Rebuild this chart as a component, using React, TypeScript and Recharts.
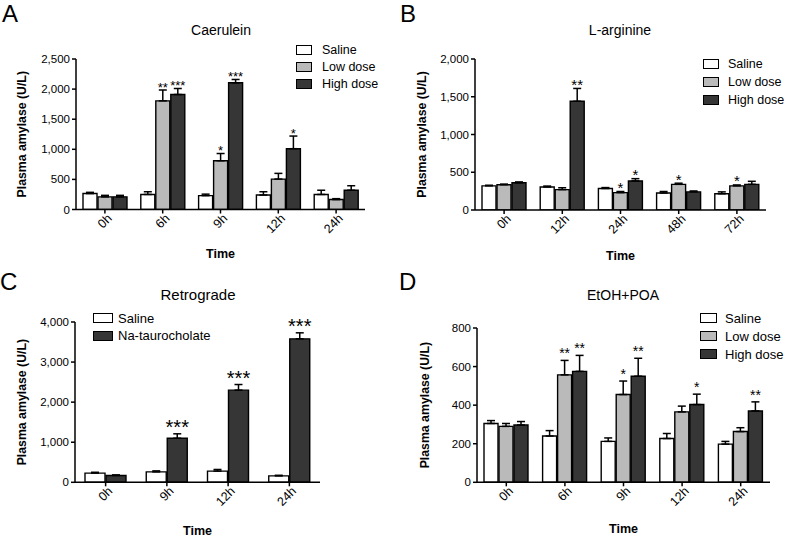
import { BarChart, Bar, XAxis, YAxis, ErrorBar, LabelList, Legend } from 'recharts';

// A - Caerulein
const caeruleinTimes = ['0h', '6h', '9h', '12h', '24h'];
const caeruleinSaline = [265, 250, 230, 240, 250];
const caeruleinSalineErr = [20, 45, 25, 55, 70];
const caeruleinLow = [210, 1805, 810, 505, 165];
const caeruleinLowErr = [25, 180, 120, 95, 15];
const caeruleinHigh = [210, 1910, 2105, 1010, 320];
const caeruleinHighErr = [25, 100, 55, 210, 75];
const caeruleinLowStars = ['', '**', '*', '', ''];
const caeruleinHighStars = ['', '***', '***', '*', ''];
const caeruleinTicks = [0, 500, 1000, 1500, 2000, 2500];

// B - L-arginine
const arginineTimes = ['0h', '12h', '24h', '48h', '72h'];
const arginineSaline = [320, 305, 285, 225, 215];
const arginineSalineErr = [8, 12, 12, 20, 25];
const arginineLow = [335, 270, 230, 340, 320];
const arginineLowErr = [8, 25, 15, 15, 12];
const arginineHigh = [360, 1440, 385, 240, 340];
const arginineHighErr = [12, 170, 30, 12, 40];
const arginineLowStars = ['', '', '*', '*', '*'];
const arginineHighStars = ['', '**', '*', '', ''];
const arginineTicks = [0, 500, 1000, 1500, 2000];

// C - Retrograde
const retroTimes = ['0h', '9h', '12h', '24h'];
const retroSaline = [230, 260, 280, 160];
const retroSalineErr = [20, 25, 40, 15];
const retroTauro = [170, 1100, 2300, 3580];
const retroTauroErr = [15, 110, 140, 150];
const retroTauroStars = ['', '***', '***', '***'];
const retroTicks = [0, 1000, 2000, 3000, 4000];

// D - EtOH+POA
const etohTimes = ['0h', '6h', '9h', '12h', '24h'];
const etohSaline = [305, 240, 212, 227, 198];
const etohSalineErr = [15, 28, 18, 26, 14];
const etohLow = [290, 557, 455, 365, 263];
const etohLowErr = [15, 75, 70, 30, 20];
const etohHigh = [297, 575, 550, 403, 370];
const etohHighErr = [18, 83, 93, 54, 47];
const etohLowStars = ['', '**', '*', '', ''];
const etohHighStars = ['', '**', '**', '*', '**'];
const etohTicks = [0, 200, 400, 600, 800];

const WHITE = '#ffffff';
const GRAY = '#bababa';
const DARK = '#363636';
const FONT = '"Liberation Sans", Arial, sans-serif';

type Series = { key: string; name: string; fill: string; values: number[]; errors: number[]; stars?: string[] };

type PanelProps = {
  left: number; top: number; width: number; height: number;
  margin: { top: number; right: number; bottom: number; left: number };
  yWidth: number; xHeight: number; yLabelOffset: number; timeOffset: number;
  times: string[]; series: Series[]; ticks: number[];
  barSize: number; starSize: number; starGap: number;
  legend: { left: number; top: number; boxW: number; boxH: number; rowH: number; gap: number; fontSize: number };
};

const TimeTick = (props: any) => {
  const { x, y, payload } = props;
  return (
    <g transform={`translate(${x + 5},${y + 1})`}>
      <text transform="rotate(-45)" textAnchor="end" fontSize={12.5} fill="#000" dy="0.3em">
        {payload.value}
      </text>
    </g>
  );
};

function Panel(p: PanelProps) {
  const rows = p.times.map((t, i) => {
    const row: any = { time: t };
    p.series.forEach((s) => {
      row[s.key] = s.values[i];
      row[s.key + 'Err'] = [0, s.errors[i]];
      row[s.key + 'Star'] = s.stars ? s.stars[i] : '';
    });
    return row;
  });

  // star sits just above the error bar; position from the bar's own pixel scale
  const starContent = (key: string) => (props: any) => {
    const vb = props.viewBox || props;
    const idx = props.index;
    const row = props.payload && props.payload[key] !== undefined ? props.payload : rows[idx];
    if (!row || !row[key + 'Star']) return null;
    const v = row[key];
    const e = row[key + 'Err'][1];
    const errTop = vb.y - (vb.height / v) * e;
    return (
      <text x={vb.x + vb.width / 2} y={errTop - p.starGap + 0.43 * p.starSize} textAnchor="middle"
        fontSize={p.starSize} fill="#000">
        {row[key + 'Star']}
      </text>
    );
  };

  const lg = p.legend;
  const legendContent = () => (
    <div style={{ fontFamily: FONT, fontSize: lg.fontSize, color: '#000' }}>
      {p.series.map((s) => (
        <div key={s.key} style={{ display: 'flex', alignItems: 'center', height: lg.rowH, whiteSpace: 'nowrap' }}>
          <span style={{ display: 'inline-block', boxSizing: 'border-box', width: lg.boxW, height: lg.boxH,
            background: s.fill, border: '1.5px solid #000', marginRight: lg.gap }} />
          {s.name}
        </div>
      ))}
    </div>
  );

  return (
    <div style={{ position: 'absolute', left: p.left, top: p.top }}>
      <BarChart width={p.width} height={p.height} data={rows} margin={p.margin}
        barSize={p.barSize} barGap={1} style={{ fontFamily: FONT }}>
        <XAxis dataKey="time" height={p.xHeight} tick={<TimeTick />} tickSize={4}
          axisLine={{ stroke: '#000', strokeWidth: 1.5 }} tickLine={{ stroke: '#000', strokeWidth: 1.5 }}
          interval={0}
          label={{ value: 'Time', position: 'insideBottom', offset: p.timeOffset, fill: '#000',
            fontSize: 12.5, fontWeight: 'bold' }} />
        <YAxis width={p.yWidth} domain={[0, p.ticks[p.ticks.length - 1]]} ticks={p.ticks}
          allowDataOverflow tickSize={4} tickMargin={2}
          tickFormatter={(v: number) => v.toLocaleString('en-US')}
          tick={{ fill: '#000', fontSize: 11.5 }}
          axisLine={{ stroke: '#000', strokeWidth: 1.5 }} tickLine={{ stroke: '#000', strokeWidth: 1.5 }}
          label={{ value: 'Plasma amylase (U/L)', angle: -90, position: 'insideLeft', offset: p.yLabelOffset,
            fill: '#000', fontSize: 12.3, fontWeight: 'bold', style: { textAnchor: 'middle' } }} />
        <Legend layout="vertical" align="center" verticalAlign="middle" content={legendContent}
          wrapperStyle={{ left: lg.left, top: lg.top, width: 'auto' }} />
        {p.series.map((s) => (
          <Bar key={s.key} dataKey={s.key} name={s.name} fill={s.fill} stroke="#000" strokeWidth={1.4}
            isAnimationActive={false}>
            <ErrorBar dataKey={s.key + 'Err'} width={4} stroke="#000" strokeWidth={1.5} direction="y" />
            <LabelList dataKey={s.key + 'Star'} content={starContent(s.key)} />
          </Bar>
        ))}
      </BarChart>
    </div>
  );
}

const threeDose = (sal: number[], salE: number[], low: number[], lowE: number[], lowS: string[],
  high: number[], highE: number[], highS: string[]): Series[] => [
  { key: 'saline', name: 'Saline', fill: WHITE, values: sal, errors: salE },
  { key: 'low', name: 'Low dose', fill: GRAY, values: low, errors: lowE, stars: lowS },
  { key: 'high', name: 'High dose', fill: DARK, values: high, errors: highE, stars: highS },
];

export default function App() {
  return (
    <div style={{ position: 'absolute', left: 0, top: 0, width: 787, height: 537, background: '#fff',
      fontFamily: FONT, overflow: 'hidden' }}>
      <Panel left={0} top={0} width={390} height={268}
        margin={{ top: 59, right: 25, bottom: 5, left: 8 }} yWidth={68} xHeight={53.5}
        yLabelOffset={14} timeOffset={5}
        times={caeruleinTimes} ticks={caeruleinTicks} barSize={14} starSize={13} starGap={4}
        series={threeDose(caeruleinSaline, caeruleinSalineErr, caeruleinLow, caeruleinLowErr, caeruleinLowStars,
          caeruleinHigh, caeruleinHighErr, caeruleinHighStars)}
        legend={{ left: 296, top: 41.5, boxW: 16, boxH: 10, rowH: 17, gap: 10, fontSize: 12.5 }} />
      <Panel left={393} top={0} width={394} height={268}
        margin={{ top: 59, right: 21, bottom: 4, left: 8 }} yWidth={74} xHeight={54}
        yLabelOffset={20.7} timeOffset={4}
        times={arginineTimes} ticks={arginineTicks} barSize={14} starSize={15} starGap={5}
        series={threeDose(arginineSaline, arginineSalineErr, arginineLow, arginineLowErr, arginineLowStars,
          arginineHigh, arginineHighErr, arginineHighStars)}
        legend={{ left: 310, top: 55.5, boxW: 16, boxH: 10, rowH: 17.8, gap: 9, fontSize: 12.5 }} />
      <Panel left={0} top={268} width={390} height={269}
        margin={{ top: 54, right: 70, bottom: 1, left: 8 }} yWidth={67} xHeight={53.7}
        yLabelOffset={13.7} timeOffset={1}
        times={retroTimes} ticks={retroTicks} barSize={20} starSize={20} starGap={8}
        series={[
          { key: 'saline', name: 'Saline', fill: WHITE, values: retroSaline, errors: retroSalineErr },
          { key: 'tauro', name: 'Na-taurocholate', fill: DARK, values: retroTauro, errors: retroTauroErr,
            stars: retroTauroStars },
        ]}
        legend={{ left: 93, top: 41.6, boxW: 20, boxH: 10, rowH: 17.4, gap: 5, fontSize: 13 }} />
      <Panel left={393} top={268} width={394} height={269}
        margin={{ top: 60, right: 17, bottom: 2, left: 8 }} yWidth={76} xHeight={52.7}
        yLabelOffset={24} timeOffset={2}
        times={etohTimes} ticks={etohTicks} barSize={14} starSize={14} starGap={8}
        series={threeDose(etohSaline, etohSalineErr, etohLow, etohLowErr, etohLowStars,
          etohHigh, etohHighErr, etohHighStars)}
        legend={{ left: 307, top: 41.3, boxW: 17, boxH: 10, rowH: 18, gap: 8, fontSize: 13 }} />
      <svg width={787} height={537} style={{ position: 'absolute', left: 0, top: 0, pointerEvents: 'none' }}
        fontFamily={FONT}>
        <text x={2} y={22} fontSize={24}>A</text>
        <text x={400} y={22} fontSize={24}>B</text>
        <text x={0} y={290} fontSize={24}>C</text>
        <text x={399} y={290} fontSize={24}>D</text>
        <text x={221} y={35} fontSize={14} textAnchor="middle">Caerulein</text>
        <text x={620} y={35} fontSize={14} textAnchor="middle">L-arginine</text>
        <text x={198} y={300} fontSize={15} textAnchor="middle">Retrograde</text>
        <text x={623} y={300} fontSize={14} textAnchor="middle">EtOH+POA</text>
      </svg>
    </div>
  );
}
